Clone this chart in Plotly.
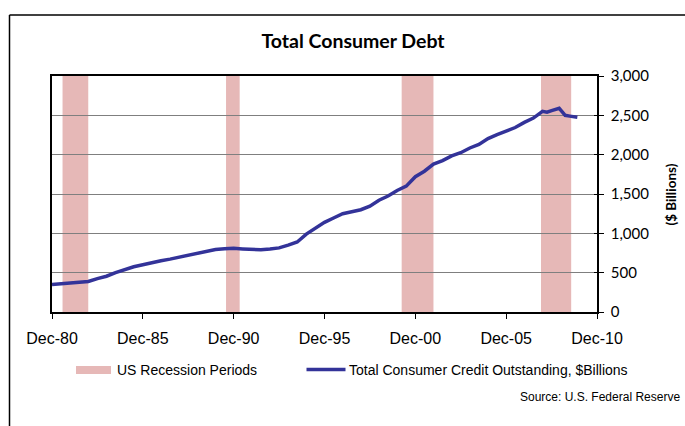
import plotly.graph_objects as go

# ---- data ----
dates = ["1980-12-01", "1981-06-01", "1981-12-01", "1982-06-01", "1982-12-01",
         "1983-06-01", "1983-12-01", "1984-06-01", "1984-12-01", "1985-06-01",
         "1985-12-01", "1986-06-01", "1986-12-01", "1987-06-01", "1987-12-01",
         "1988-06-01", "1988-12-01", "1989-06-01", "1989-12-01", "1990-06-01",
         "1990-12-01", "1991-06-01", "1991-12-01", "1992-06-01", "1992-12-01",
         "1993-06-01", "1993-12-01", "1994-06-01", "1994-12-01", "1995-06-01",
         "1995-12-01", "1996-06-01", "1996-12-01", "1997-06-01", "1997-12-01",
         "1998-06-01", "1998-12-01", "1999-06-01", "1999-12-01", "2000-06-01",
         "2000-12-01", "2001-06-01", "2001-12-01", "2002-06-01", "2002-12-01",
         "2003-06-01", "2003-12-01", "2004-06-01", "2004-12-01", "2005-06-01",
         "2005-12-01", "2006-06-01", "2006-12-01", "2007-06-01", "2007-12-01",
         "2008-03-01", "2008-06-01", "2008-09-01", "2008-11-01", "2009-01-01",
         "2009-03-01", "2009-06-01", "2009-09-01", "2009-11-01"]
credit = [350, 358, 365, 375, 388,
          425, 455, 500, 540, 575,
          600, 630, 652, 672, 695,
          724, 745, 772, 795, 805,
          810, 802, 800, 790, 800,
          815, 850, 890, 990, 1065,
          1140, 1195, 1250, 1275, 1300,
          1345, 1420, 1475, 1545, 1600,
          1720, 1790, 1880, 1925, 1985,
          2025, 2085, 2130, 2205, 2255,
          2300, 2345, 2410, 2465, 2550,
          2540, 2560, 2580, 2590, 2545,
          2500, 2490, 2480, 2475]

rec_start = ["1981-07-01", "1990-07-01", "2000-03-01", "2007-11-01"]
rec_end = ["1982-11-30", "1991-04-01", "2001-11-30", "2009-06-30"]

tick_vals = ["1980-12-01", "1985-12-01", "1990-12-01", "1995-12-01",
             "2000-12-01", "2005-12-01", "2010-12-01"]
tick_text = ["Dec-80", "Dec-85", "Dec-90", "Dec-95", "Dec-00", "Dec-05", "Dec-10"]
y_ticks = [0, 500, 1000, 1500, 2000, 2500, 3000]

title = "Total Consumer Debt"
line_name = "Total Consumer Credit Outstanding, $Billions"
band_name = "US Recession Periods"
source = "Source: U.S. Federal Reserve"

BAND = "#E6B8B7"
LINE = "#333399"

# ---- geometry (pixels) ----
W, H = 685, 426
L, R, T, B = 52, 597, 76, 312
PW, PH = R - L, B - T


def px(x):
    return (x - L) / PW


def py(y):
    return (B - y) / PH


fig = go.Figure()

fig.add_trace(go.Scatter(
    x=dates, y=credit, mode="lines", name=line_name,
    line=dict(color=LINE, width=3.5), showlegend=False,
))

# invisible trace to host the inside ticks on the right axis
fig.add_trace(go.Scatter(x=[dates[0]], y=[0], yaxis="y2", mode="markers",
                         marker=dict(opacity=0), showlegend=False,
                         hoverinfo="skip"))

shapes = []
for s, e in zip(rec_start, rec_end):
    shapes.append(dict(type="rect", xref="x", yref="paper", x0=s, x1=e,
                       y0=0, y1=1, fillcolor=BAND, line=dict(width=0),
                       layer="between"))

# outer chart border (left and top edges visible)
shapes.append(dict(type="line", xref="paper", yref="paper",
                   x0=px(9.5), x1=px(9.5), y0=py(15), y1=py(440),
                   line=dict(color="black", width=1.5)))
shapes.append(dict(type="line", xref="paper", yref="paper",
                   x0=px(9.5), x1=px(700), y0=py(15), y1=py(15),
                   line=dict(color="black", width=1.5)))

# legend symbols
ly = 369.5
shapes.append(dict(type="rect", xref="paper", yref="paper",
                   x0=px(76), x1=px(111), y0=py(ly + 4.5), y1=py(ly - 3.5),
                   fillcolor=BAND, line=dict(width=0)))
shapes.append(dict(type="line", xref="paper", yref="paper",
                   x0=px(306.5), x1=px(345.5), y0=py(ly), y1=py(ly),
                   line=dict(color=LINE, width=3.5)))

annotations = [
    dict(text=band_name, xref="paper", yref="paper", x=px(115), y=py(ly),
         xanchor="left", yanchor="middle", showarrow=False,
         font=dict(family="Liberation Sans", size=14, color="black")),
    dict(text=line_name, xref="paper", yref="paper", x=px(347.5), y=py(ly),
         xanchor="left", yanchor="middle", showarrow=False,
         font=dict(family="Liberation Sans", size=14, color="black")),
    dict(text=source, xref="paper", yref="paper", x=px(682), y=py(396.5),
         xanchor="right", yanchor="middle", showarrow=False,
         font=dict(family="Liberation Sans", size=12, color="black")),
    dict(text="<b>($ Billions)</b>", xref="paper", yref="paper", x=px(670), y=py(194.5),
         xanchor="center", yanchor="middle", showarrow=False, textangle=-90,
         font=dict(family="Lato", size=13.5, color="black")),
]

fig.update_layout(
    width=W, height=H,
    margin=dict(l=L, r=W - R, t=T, b=H - B, pad=0),
    paper_bgcolor="white", plot_bgcolor="white",
    title=dict(text="<b>" + title + "</b>", x=353 / W, y=1 - 40.7 / H,
               xanchor="center", yanchor="middle", xref="container",
               font=dict(family="Lato", size=19.5, color="black")),
    xaxis=dict(type="date", range=["1980-12-01", "2010-12-01"],
               tickvals=tick_vals, ticktext=tick_text,
               ticks="outside", ticklen=5, tickcolor="black", tickwidth=1,
               showline=True, linecolor="black", linewidth=1.5, mirror=True,
               showgrid=False, zeroline=False, ticklabelstandoff=6,
               tickfont=dict(family="Liberation Sans", size=16, color="black")),
    yaxis=dict(range=[0, 3000], side="right", tickvals=y_ticks,
               tickformat=",d", ticks="outside", ticklen=5, tickcolor="black",
               showline=True, linecolor="black", linewidth=1.5, mirror=True,
               showgrid=True, gridcolor="#7f7f7f", gridwidth=1, zeroline=False,
               ticklabelstandoff=4,
               tickfont=dict(family="Lato", size=15, color="black")),
    yaxis2=dict(range=[0, 3000], side="right", overlaying="y", tickvals=y_ticks,
                ticks="inside", ticklen=3, tickcolor="black",
                showticklabels=False, showgrid=False, zeroline=False,
                showline=False),
    shapes=shapes, annotations=annotations,
    showlegend=False,
)

fig.write_html("out.html")
